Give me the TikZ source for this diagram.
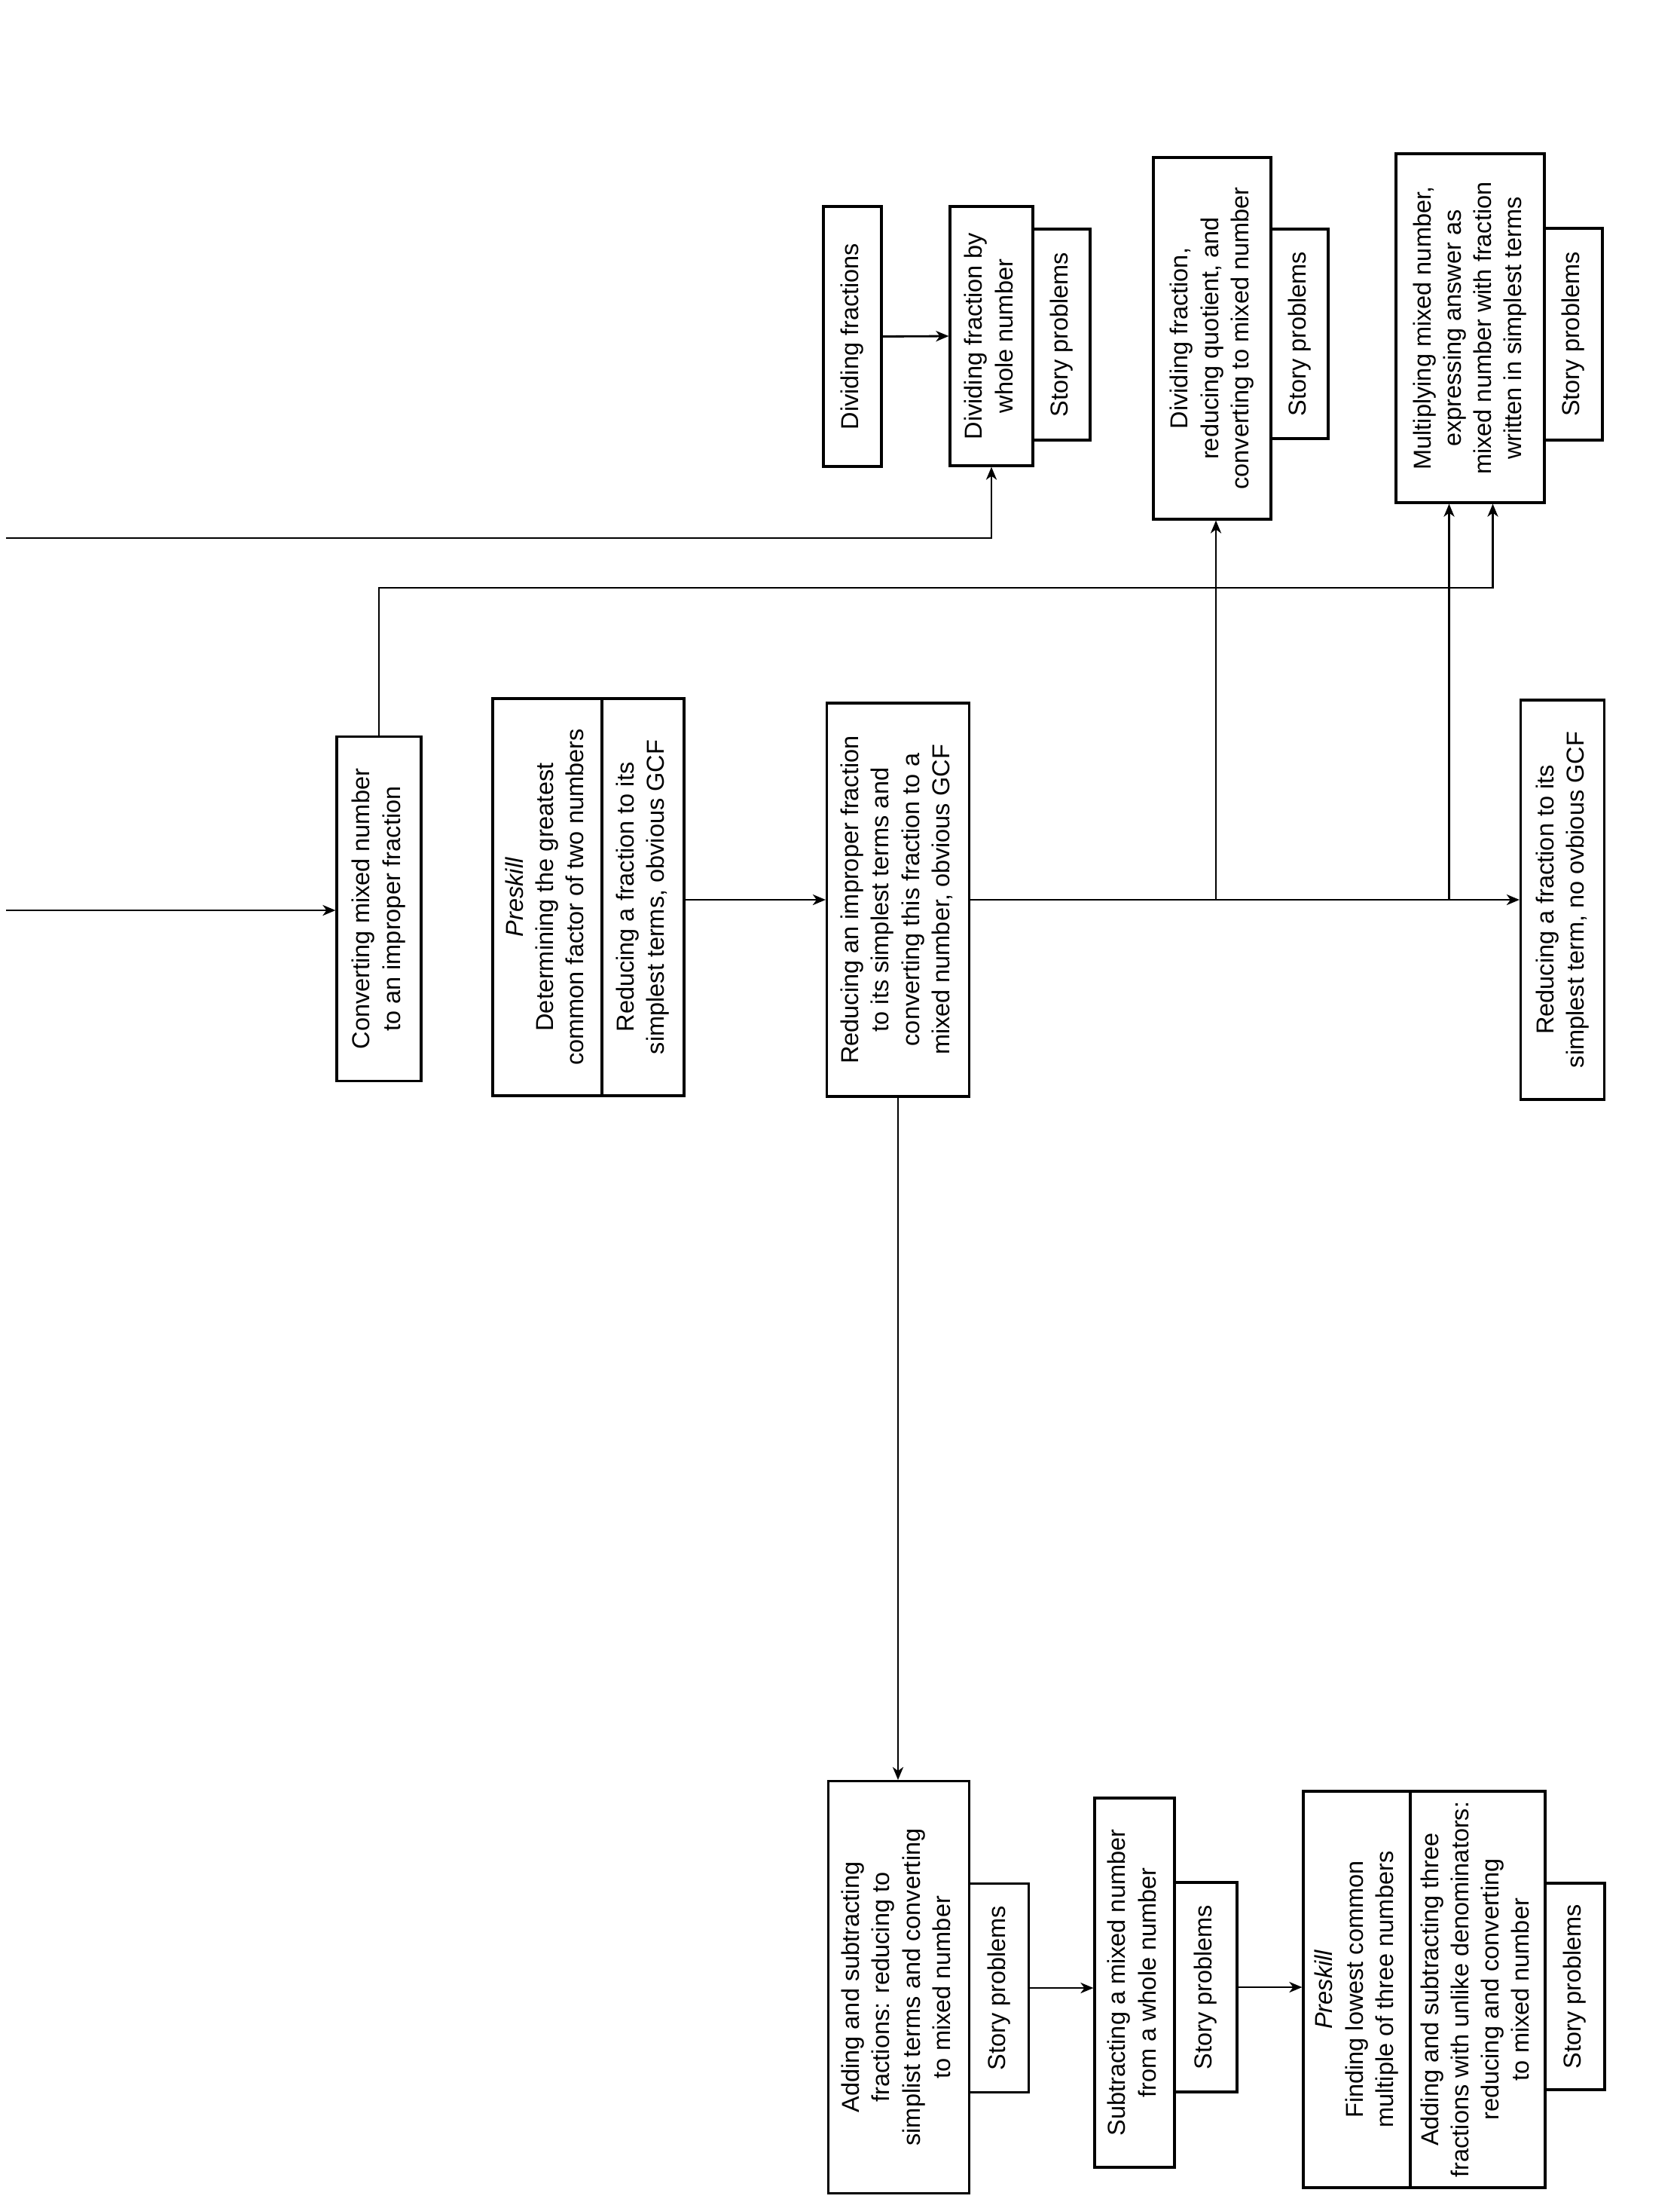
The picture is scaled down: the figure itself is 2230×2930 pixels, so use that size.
\documentclass[tikz,border=0pt]{standalone}
\usepackage{fontspec}
\setmainfont{Liberation Sans}
\usepackage{graphicx}
\usetikzlibrary{arrows.meta,calc}
\newcommand\rt[1]{\rotatebox{90}{\begin{tabular}{@{}c@{}}#1\end{tabular}}}
\begin{document}
\begin{tikzpicture}[x=0.1mm,y=-0.1mm,
  font=\fontsize{9.25}{11.4}\selectfont,
  box/.style={draw, line width=0.9pt, inner sep=0pt, align=center},
  link/.style={line width=0.8pt},
  arr/.style={link, -{Stealth[length=1.7mm,width=1.4mm,inset=0.5mm]}}]
\useasboundingbox[fill=white] (0,0) rectangle (2230,2930);

% column 1
\node[box, minimum width=11.2mm, minimum height=45.7mm] (conv) at (503,1206)
  {\rt{Converting mixed number\\to an improper fraction}};
\node[box, minimum width=14.5mm, minimum height=52.7mm] (pre1a) at (726.5,1190.5)
  {\rt{\textit{Preskill}\\Determining the greatest\\common factor of two numbers}};
\node[box, minimum width=10.9mm, minimum height=52.7mm] (pre1b) at (853.5,1190.5)
  {\rt{Reducing a fraction to its\\simplest terms, obvious GCF}};
\node[box, minimum width=18.9mm, minimum height=52.2mm] (red) at (1192,1194)
  {\rt{Reducing an improper fraction\\to its simplest terms and\\converting this fraction to a\\mixed number, obvious GCF}};
\node[box, minimum width=11.1mm, minimum height=53mm] (redno) at (2074,1194)
  {\rt{Reducing a fraction to its\\simplest term, no ovbious GCF}};

% top row
\node[box, minimum width=7.7mm, minimum height=34.5mm] (divf) at (1131.5,446.5)
  {\rt{Dividing fractions}};
\node[box, minimum width=11mm, minimum height=34.4mm] (dfwn) at (1316,446)
  {\rt{Dividing fraction by\\whole number}};
\node[box, minimum width=7.6mm, minimum height=28mm] (story1) at (1409,444)
  {\rt{Story problems}};
\node[box, minimum width=15.6mm, minimum height=48mm] (dq) at (1609,449)
  {\rt{Dividing fraction,\\reducing quotient, and\\converting to mixed number}};
\node[box, minimum width=7.6mm, minimum height=27.8mm] (story2) at (1725,443)
  {\rt{Story problems}};
\node[box, minimum width=19.7mm, minimum height=46.3mm] (mult) at (1951.5,435.5)
  {\rt{Multiplying mixed number,\\expressing answer as\\mixed number with fraction\\written in simplest terms}};
\node[box, minimum width=7.7mm, minimum height=28.1mm] (story3) at (2088.5,443.5)
  {\rt{Story problems}};

% bottom row
\node[box, minimum width=18.7mm, minimum height=54.7mm] (add) at (1193,2637)
  {\rt{Adding and subtracting\\fractions: reducing to\\simplist terms and converting\\to mixed number}};
\node[box, minimum width=7.9mm, minimum height=27.7mm] (story4) at (1326,2638)
  {\rt{Story problems}};
\node[box, minimum width=10.6mm, minimum height=49mm] (sub) at (1506,2631)
  {\rt{Subtracting a mixed number\\from a whole number}};
\node[box, minimum width=8.3mm, minimum height=27.8mm] (story5) at (1600.5,2637)
  {\rt{Story problems}};
\node[box, minimum width=14.2mm, minimum height=52.6mm] (pre3a) at (1801,2640)
  {\rt{\textit{Preskill}\\Finding lowest common\\multiple of three numbers}};
\node[box, minimum width=17.9mm, minimum height=52.6mm] (pre3b) at (1961.5,2640)
  {\rt{Adding and subtracting three\\fractions with unlike denominators:\\reducing and converting\\to mixed number}};
\node[box, minimum width=7.9mm, minimum height=27.4mm] (story6) at (2090.5,2636)
  {\rt{Story problems}};

% free ends and bend points
\coordinate (in1) at (8,714);
\coordinate (in2) at (8,1208);
\coordinate (upper) at (0,780);
\coordinate (mA) at ($(mult.south)+(-28,0)$);
\coordinate (mB) at ($(mult.south)+(30,0)$);
\coordinate (dA) at ($(dq.south)+(5,0)$);

% connectors
\draw[arr] (in1) -| (dfwn.south);
\draw[arr] (in2) -- (in2 -| conv.west);
\draw[arr] (divf.east) -- (dfwn.west);
\draw[arr] (conv.north) |- (mB |- upper) -- (mB);
\draw[arr] (red.west -| pre1b.east) -- (red.west);
\draw[arr] (red.east) -- (red.east -| redno.west);
\draw[arr] (dA |- red.east) -- (dA);
\draw[arr] (mA |- red.east) -- (mA);
\draw[arr] (red.south) -- (red.south |- add.north);
\draw[arr] (story4.east) -- (story4.east -| sub.west);
\draw[arr] (story5.east) -- (story5.east -| pre3a.west);
\end{tikzpicture}
\end{document}
